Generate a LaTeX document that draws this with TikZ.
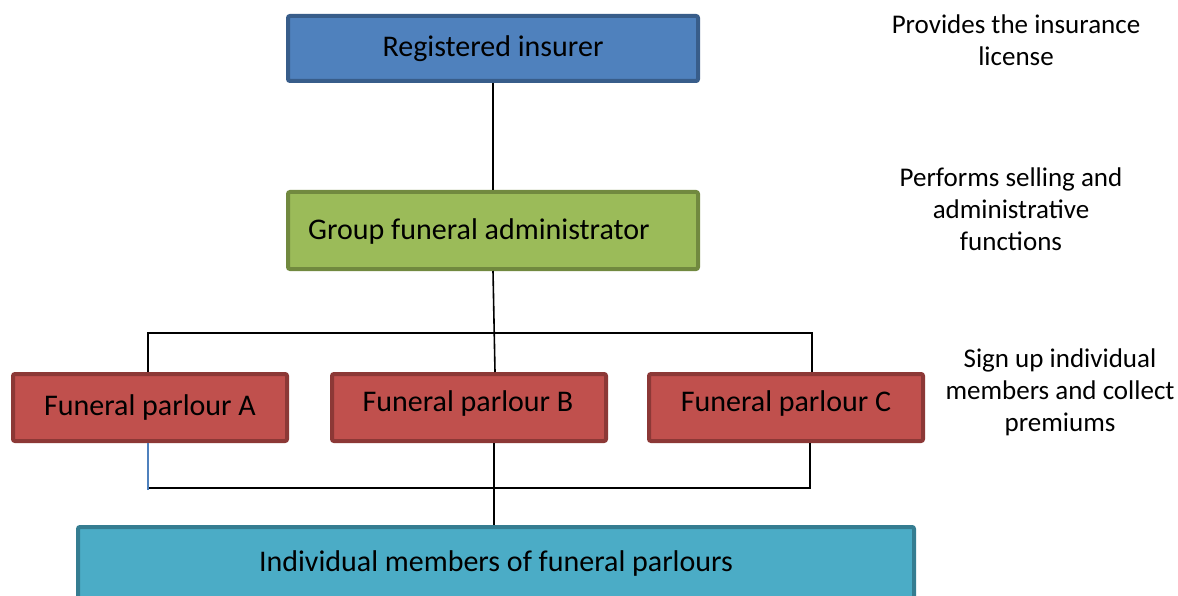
\documentclass[tikz,border=0pt]{standalone}
\usepackage{fontspec}
\setmainfont{Carlito}
\definecolor{insfill}{HTML}{4F81BD}\definecolor{insdraw}{HTML}{385D8A}
\definecolor{admfill}{HTML}{9BBB59}\definecolor{admdraw}{HTML}{71893F}
\definecolor{parfill}{HTML}{C0504D}\definecolor{pardraw}{HTML}{8C3836}
\definecolor{memfill}{HTML}{4BACC6}\definecolor{memdraw}{HTML}{357D91}
\definecolor{blueline}{HTML}{4F81BD}
\tikzset{
  box/.style={draw, line width=4pt, rounded corners=2pt, inner sep=0pt},
  boxtext/.style={font=\fontsize{30}{36}\selectfont},
  note/.style={align=center, font=\fontsize{27}{32}\selectfont},
  conn/.style={draw=black, line width=1.6pt}
}
\begin{document}
\begin{tikzpicture}[x=1pt,y=-1pt]
\useasboundingbox (0,0) rectangle (1178,596);
\fill[white] (0,0) rectangle (1178,596);
\node[box, fill=insfill, draw=insdraw, minimum width=410pt, minimum height=65pt] (ins) at (493,48.5) {};
\node[boxtext] (inst) at (493,49) {Registered insurer};
\node[box, fill=admfill, draw=admdraw, minimum width=410pt, minimum height=77pt] (adm) at (493,230.5) {};
\node[boxtext] (admt) at (479,232) {Group funeral administrator};
\node[box, fill=parfill, draw=pardraw, minimum width=274pt, minimum height=67pt] (pa) at (150,407.5) {};
\node[boxtext] (pat) at (150,408) {Funeral parlour A};
\node[box, fill=parfill, draw=pardraw, minimum width=274pt, minimum height=67pt] (pb) at (469,407.5) {};
\node[boxtext] (pbt) at (468,404) {Funeral parlour B};
\node[box, fill=parfill, draw=pardraw, minimum width=274pt, minimum height=67pt] (pc) at (786,407.5) {};
\node[boxtext] (pct) at (786,404) {Funeral parlour C};
\node[box, fill=memfill, draw=memdraw, minimum width=836pt, minimum height=90pt, anchor=north] (mem) at (496,525) {};
\node[boxtext] (memt) at (496,563) {Individual members of funeral parlours};
\node[note] (n1) at (1016,40) {Provides the insurance\\license};
\node[note] (n2) at (1011,209) {Performs selling and\\administrative\\functions};
\node[note] (n3) at (1060,392) {Sign up individual\\members and collect\\premiums};
\coordinate (tl) at (148,333);
\coordinate (tr) at (812,333);
\coordinate (bl) at (147,488);
\coordinate (br) at (810,488);
\draw[conn] (ins.south) -- (adm.north);
\draw[conn] (adm.south) -- (pb.north -| 495,0);
\draw[conn] (pa.north -| tl) -- (tl) -- (tr) -- (pc.north -| tr);
\draw[conn] (bl) -- (br) -- (pc.south -| br);
\draw[conn] (pb.south -| 494,0) -- (mem.north -| 494,0);
\draw[draw=blueline, line width=1.2pt] (pa.south -| 148,0) -- (148,490);
\end{tikzpicture}
\end{document}
